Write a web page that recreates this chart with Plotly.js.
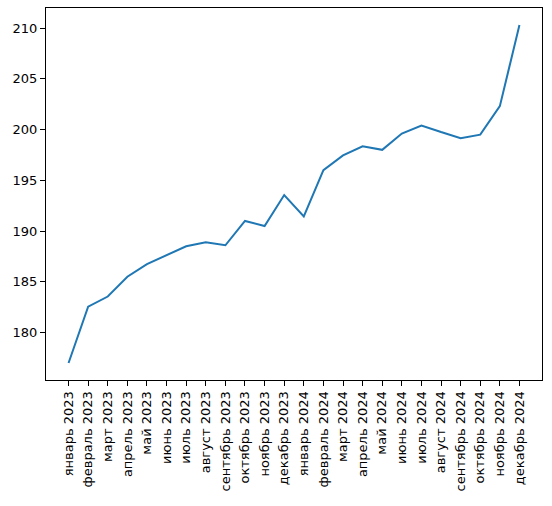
<!DOCTYPE html>
<html><head><meta charset="utf-8">
<script src="https://cdn.plot.ly/plotly-3.0.1.min.js"></script>
<style>html,body{margin:0;padding:0;background:#fff}#c{width:552px;height:506px}</style>
</head><body><div id="c"></div>
<script>
const months = ["январь 2023","февраль 2023","март 2023","апрель 2023","май 2023","июнь 2023","июль 2023","август 2023","сентябрь 2023","октябрь 2023","ноябрь 2023","декабрь 2023","январь 2024","февраль 2024","март 2024","апрель 2024","май 2024","июнь 2024","июль 2024","август 2024","сентябрь 2024","октябрь 2024","ноябрь 2024","декабрь 2024"];
const values = [177.0,182.55,183.55,185.5,186.75,187.65,188.5,188.9,188.6,191.0,190.5,193.55,191.45,196.0,197.45,198.35,198.0,199.6,200.4,199.75,199.15,199.5,202.3,210.3];
const yTicks = [180,185,190,195,200,205,210];

const axisCommon = {
  showline: true, mirror: true, linecolor: "#000", linewidth: 1,
  ticks: "outside", ticklen: 5, tickwidth: 1, tickcolor: "#000",
  showgrid: false, zeroline: false,
  tickfont: {family: "DejaVu Sans", size: 13, color: "#000"}
};
Plotly.newPlot("c", [{
  x: months.map((_, i) => i), y: values, type: "scatter", mode: "lines",
  line: {color: "#1f77b4", width: 2}
}], {
  width: 552, height: 506,
  margin: {l: 46, r: 10, t: 8, b: 126},
  paper_bgcolor: "#fff", plot_bgcolor: "#fff",
  showlegend: false,
  xaxis: Object.assign({}, axisCommon, {
    range: [-1.15, 24.15], tickmode: "array",
    tickvals: months.map((_, i) => i), ticktext: months, tickangle: -90
  }),
  yaxis: Object.assign({}, axisCommon, {
    range: [175.33, 211.97], tickmode: "array", tickvals: yTicks, ticktext: yTicks.map(String)
  })
}, {displayModeBar: false, staticPlot: true});
</script></body></html>
